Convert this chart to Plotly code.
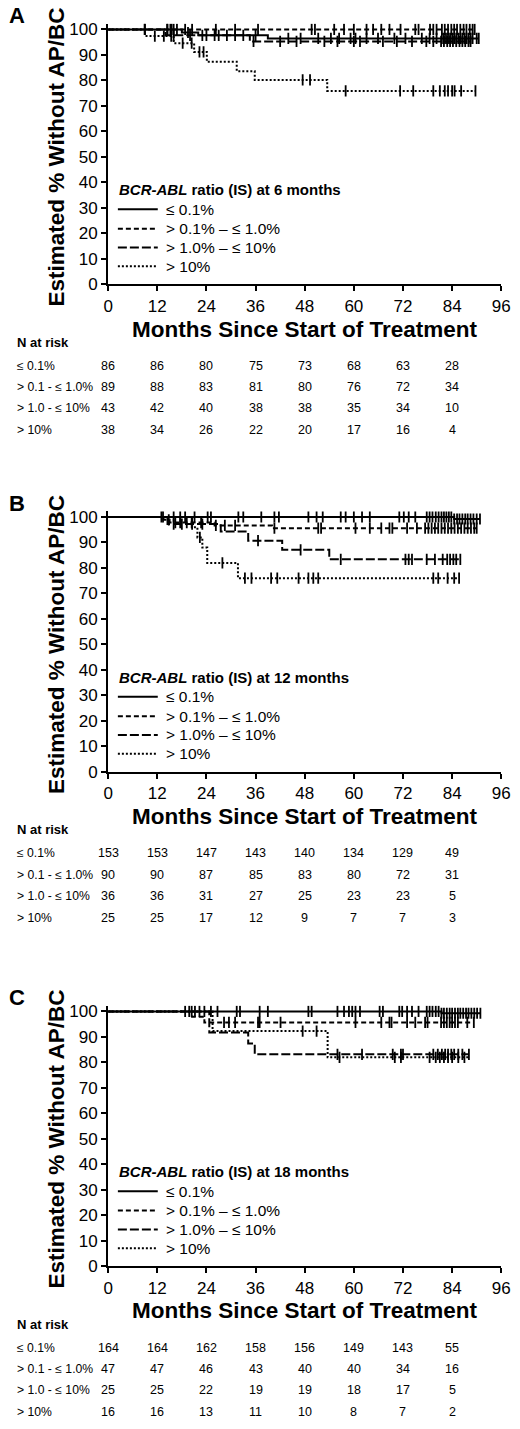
import numpy as np
import plotly.graph_objects as go

W, H = 520, 1429
FONT = "Liberation Sans"

# ---------------- shared labels ----------------
x_ticks = [0, 12, 24, 36, 48, 60, 72, 84, 96]
y_ticks = [0, 10, 20, 30, 40, 50, 60, 70, 80, 90, 100]
risk_times = [0, 12, 24, 36, 48, 60, 72, 84]
legend_labels = ["≤ 0.1%", "> 0.1% – ≤ 1.0%", "> 1.0% – ≤ 10%", "> 10%"]
table_labels = ["≤ 0.1%", "> 0.1 - ≤ 1.0%", "> 1.0 - ≤ 10%", "> 10%"]
landmark_months = [6, 12, 18]
panel_letters = ["A", "B", "C"]

# ---------------- Panel A (6 months) ----------------
A1_t = [0, 18, 22, 39]
A1_s = [100, 98.8, 97.7, 96.5]
A1_end = 90.5
A1_cens = [9.0, 14.5, 15.5, 19.5, 23, 26, 31, 33, 36, 44, 47, 51.3, 54.4, 56.4, 59.2, 60.4,
           63.1, 65.9, 69.9, 72.6, 76.6, 78.5, 80.2, 81.5, 82, 82.5, 83, 83.5, 84, 84.5, 85,
           85.5, 86, 86.5, 87, 87.5, 88, 88.5, 89, 90, 90.5]
A2_t = [0]
A2_s = [100]
A2_end = 89.5
A2_cens = [8.9, 14.4, 15.2, 16, 16.8, 18.8, 20.5, 26.3, 31, 36.6, 49.7, 50.5, 55.2, 57.6, 60,
           63.1, 64.7, 66.7, 68.7, 71.4, 75, 75.8, 78.6, 79.4, 80.2, 81.5, 82.2, 83, 83.8,
           84.5, 85.2, 86, 86.8, 87.5, 88.3, 89, 89.5]
A3_t = [0, 14, 34.6]
A3_s = [100, 97.7, 95.3]
A3_end = 88.5
A3_cens = [16, 20, 24, 27, 29, 35.5, 42, 46, 52.8, 56, 60, 61.5, 67.1, 70.5, 74.2, 77.7, 79.4,
           81.3, 82, 82.8, 83.5, 84.2, 85, 85.8, 86.5, 87.2, 88, 88.5]
A4_t = [0, 9, 16, 21, 24.1, 31.4, 35.8, 53.5]
A4_s = [100, 97.4, 94.6, 91.2, 87.3, 83.6, 80.2, 75.9]
A4_end = 89.7
A4_cens = [11.4, 13.6, 15.4, 18.2, 20.4, 22.3, 23.3, 47.5, 49.3, 58, 71.3, 74.5, 79.4, 81,
           82.2, 83, 84, 84.6, 86.2, 89.7]
A_risk_1 = [86, 86, 80, 75, 73, 68, 63, 28]
A_risk_2 = [89, 88, 83, 81, 80, 76, 72, 34]
A_risk_3 = [43, 42, 40, 38, 38, 35, 34, 10]
A_risk_4 = [38, 34, 26, 22, 20, 17, 16, 4]

# ---------------- Panel B (12 months) ----------------
B1_t = [0, 84.5]
B1_s = [100, 99.2]
B1_end = 90.8
B1_cens = [13.0, 13.4, 16, 17.6, 18.8, 21.1, 24.3, 25.1, 31.8, 33, 37.4, 40.6, 41.7, 48.9,
           50.9, 52.4, 56.8, 58, 60, 62, 63.9, 71.1, 72.2, 73.4, 75, 77.8, 78.5, 79.2, 80,
           80.7, 81.4, 82, 82.6, 83.2, 83.8, 84.5, 85.2, 85.8, 86.5, 87.2, 87.8, 88.5, 89.2,
           90, 90.8]
B2_t = [0, 13.5, 15, 26, 40]
B2_s = [100, 98.9, 97.8, 96.7, 95.6]
B2_end = 90
B2_cens = [14.8, 16.4, 17.6, 19.2, 20.4, 22.7, 26.3, 28.5, 31, 40.6, 51.3, 52, 60.4, 63.9,
           66.7, 68.7, 69.4, 73, 75.4, 77.4, 78.2, 79, 79.8, 80.6, 81.4, 82.2, 83, 83.8,
           84.6, 85.4, 86.2, 87, 87.8, 88.6, 89.4, 90]
B3_t = [0, 14.5, 27.5, 34.2, 42.5, 54]
B3_s = [100, 97.2, 94.3, 90.7, 87.1, 83.4]
B3_end = 86
B3_cens = [16, 18, 20.5, 23, 36.6, 47, 56.8, 72.6, 73.4, 74.2, 77.8, 79.8, 81.7, 82.8, 83.5,
           84.3, 85, 86]
B4_t = [0, 20.5, 21.8, 23.0, 24.2, 31.7]
B4_s = [100, 96, 92, 88, 82, 76]
B4_end = 85.7
B4_cens = [22.4, 27.9, 33.4, 35, 39.8, 41.3, 46.5, 48.9, 50.1, 51.3, 79.4, 80.6, 82.9, 84.5,
           85.7]
B_risk_1 = [153, 153, 147, 143, 140, 134, 129, 49]
B_risk_2 = [90, 90, 87, 85, 83, 80, 72, 31]
B_risk_3 = [36, 36, 31, 27, 25, 23, 23, 5]
B_risk_4 = [25, 25, 17, 12, 9, 7, 7, 3]

# ---------------- Panel C (18 months) ----------------
C1_t = [0, 81.4]
C1_s = [100, 99.3]
C1_end = 90.9
C1_cens = [18.8, 19.8, 20.4, 21.2, 22.3, 23.5, 25.1, 26.7, 31.4, 32.2, 37, 39, 48.9, 49.7,
           56, 57.6, 58.8, 59.6, 60.4, 61.5, 66.3, 67.1, 71.1, 71.8, 73, 74.2, 75.8, 77.8,
           78.5, 79.2, 80, 80.7, 81.4, 82, 82.7, 83.4, 84, 84.7, 85.4, 86, 86.7, 87.4, 88,
           88.7, 89.4, 90.1, 90.9]
C2_t = [0, 20.5, 23.5]
C2_s = [100, 97.9, 95.7]
C2_end = 89.3
C2_cens = [28.3, 29.5, 31, 36.6, 37, 42.1, 60.4, 66.7, 68.7, 69.2, 73, 75, 77.4, 78, 81.3,
           82, 82.7, 83.4, 84, 84.7, 85.4, 87.7, 89.3]
C3_t = [0, 24.7, 34.2, 35.8]
C3_s = [100, 91.7, 87.4, 83.2]
C3_end = 88.1
C3_cens = [56, 62, 69.5, 71.5, 72, 79.4, 80.5, 81.5, 82.3, 83, 83.8, 84.5, 85.5, 86.5, 88.1]
C4_t = [0, 25.5, 53.6]
C4_s = [100, 92.3, 82.0]
C4_end = 88.1
C4_cens = [47.5, 50.9, 56.5, 70, 71.5, 78.5, 80, 81, 82, 83, 84, 85.5, 87]
C_risk_1 = [164, 164, 162, 158, 156, 149, 143, 55]
C_risk_2 = [47, 47, 46, 43, 40, 40, 34, 16]
C_risk_3 = [25, 25, 22, 19, 19, 18, 17, 5]
C_risk_4 = [16, 16, 13, 11, 10, 8, 7, 2]

panels = [
    [(A1_t, A1_s, A1_end, A1_cens), (A2_t, A2_s, A2_end, A2_cens),
     (A3_t, A3_s, A3_end, A3_cens), (A4_t, A4_s, A4_end, A4_cens)],
    [(B1_t, B1_s, B1_end, B1_cens), (B2_t, B2_s, B2_end, B2_cens),
     (B3_t, B3_s, B3_end, B3_cens), (B4_t, B4_s, B4_end, B4_cens)],
    [(C1_t, C1_s, C1_end, C1_cens), (C2_t, C2_s, C2_end, C2_cens),
     (C3_t, C3_s, C3_end, C3_cens), (C4_t, C4_s, C4_end, C4_cens)],
]
risks = [[A_risk_1, A_risk_2, A_risk_3, A_risk_4],
         [B_risk_1, B_risk_2, B_risk_3, B_risk_4],
         [C_risk_1, C_risk_2, C_risk_3, C_risk_4]]

# ---------------- layout geometry (pixels) ----------------
plot_left, plot_right = 106, 510
y100_px = [26.7, 518.7, 1017.7]      # pixel row of the 100 % gridline
y0_px = [284, 776, 1275]             # pixel row of the x axis
Y_MAX = 102.3
dashes = ["solid", "5px,3px", "9px,3px", "2px,2px"]
legend_title_off = 161.5
legend_item_off = [181.5, 201.0, 220.0, 239.0]
row_off = [82, 104, 125, 147]


def py(p):
    return 1 - p / H


fig = go.Figure()
annotations = []
shapes = []
layout = {}

for i in range(3):
    sfx = "" if i == 0 else str(i + 1)
    xa, ya = "x" + sfx, "y" + sfx
    top_px = y0_px[i] - (y0_px[i] - y100_px[i]) * Y_MAX / 100
    for g, (t, s, end, cens) in enumerate(panels[i]):
        xs = list(t) + [end]
        ys = list(s) + [s[-1]]
        fig.add_trace(go.Scatter(
            x=xs, y=ys, mode="lines", line=dict(color="black", width=2, dash=dashes[g], shape="hv"),
            name=legend_labels[g], xaxis=xa, yaxis=ya, showlegend=False, hoverinfo="skip"))
        idx = np.searchsorted(np.array(t), np.array(cens), side="right") - 1
        cy = np.array(s)[idx]
        fig.add_trace(go.Scatter(
            x=cens, y=cy, mode="markers",
            marker=dict(symbol="line-ns", size=8, line=dict(color="black", width=1.8)),
            xaxis=xa, yaxis=ya, showlegend=False, hoverinfo="skip"))

    axis_common = dict(showline=True, linecolor="black", linewidth=2, ticks="outside",
                       ticklen=5, tickwidth=2, tickcolor="black", showgrid=False,
                       zeroline=False, ticklabeloverflow="allow",
                       tickfont=dict(family=FONT, size=17, color="black"))
    layout["xaxis" + sfx] = dict(axis_common, domain=[plot_left / W, plot_right / W],
                                 range=[0, 96], tickvals=x_ticks, anchor=ya)
    layout["yaxis" + sfx] = dict(axis_common, domain=[py(y0_px[i]), py(top_px)],
                                 range=[0, Y_MAX], tickvals=y_ticks, anchor=xa)

    # legend (drawn inside the plot area)
    annotations.append(dict(text="<b><i>BCR-ABL</i> ratio (IS) at %d months</b>" % landmark_months[i],
                            xref="paper", yref="paper", x=115 / W,
                            y=py(y100_px[i] + legend_title_off), showarrow=False,
                            xanchor="left", yanchor="middle",
                            font=dict(family=FONT, size=15, color="black")))
    for g in range(4):
        yy = py(y100_px[i] + legend_item_off[g])
        shapes.append(dict(type="line", xref="paper", yref="paper",
                           x0=116 / W, x1=157 / W, y0=yy, y1=yy,
                           line=dict(color="black", width=2, dash=dashes[g])))
        annotations.append(dict(text=legend_labels[g], xref="paper", yref="paper",
                                x=163 / W, y=yy, showarrow=False,
                                xanchor="left", yanchor="middle",
                                font=dict(family=FONT, size=15.5, color="black")))

    # y-axis title
    annotations.append(dict(text="<b>Estimated % Without AP/BC</b>", textangle=-90,
                            xref="paper", yref=ya, x=53 / W, y=50, showarrow=False,
                            xanchor="center", yanchor="middle",
                            font=dict(family=FONT, size=22.5, color="black")))
    # x-axis title
    annotations.append(dict(text="<b>Months Since Start of Treatment</b>", xref=xa, yref="paper",
                            x=48, y=py(y0_px[i] + 45), showarrow=False,
                            xanchor="center", yanchor="middle",
                            font=dict(family=FONT, size=22.5, color="black")))
    # panel letter
    annotations.append(dict(text="<b>%s</b>" % panel_letters[i], xref="paper", yref="paper",
                            x=2 / W, y=py(y100_px[i] - 14), showarrow=False,
                            xanchor="left", yanchor="middle",
                            font=dict(family=FONT, size=22, color="black")))
    # N at risk table
    annotations.append(dict(text="<b>N at risk</b>", xref="paper", yref="paper",
                            x=10 / W, y=py(y0_px[i] + 58.5), showarrow=False,
                            xanchor="left", yanchor="middle",
                            font=dict(family=FONT, size=13, color="black")))
    for g in range(4):
        annotations.append(dict(text=table_labels[g], xref="paper", yref="paper",
                                x=10 / W, y=py(y0_px[i] + row_off[g]), showarrow=False,
                                xanchor="left", yanchor="middle",
                                font=dict(family=FONT, size=12.2, color="black")))
        for k, tm in enumerate(risk_times):
            annotations.append(dict(text=str(risks[i][g][k]), xref=xa, yref="paper",
                                    x=tm, y=py(y0_px[i] + row_off[g]), showarrow=False,
                                    xanchor="center", yanchor="middle",
                                    font=dict(family=FONT, size=12.5, color="black")))

fig.update_layout(width=W, height=H, margin=dict(l=0, r=0, t=0, b=0),
                  paper_bgcolor="white", plot_bgcolor="white", showlegend=False,
                  font=dict(family=FONT, color="black"),
                  annotations=annotations, shapes=shapes, **layout)

fig.write_html("out.html", config={"displayModeBar": False, "staticPlot": True},
               post_script="document.body.style.margin='0px';document.body.style.overflow='hidden';")
